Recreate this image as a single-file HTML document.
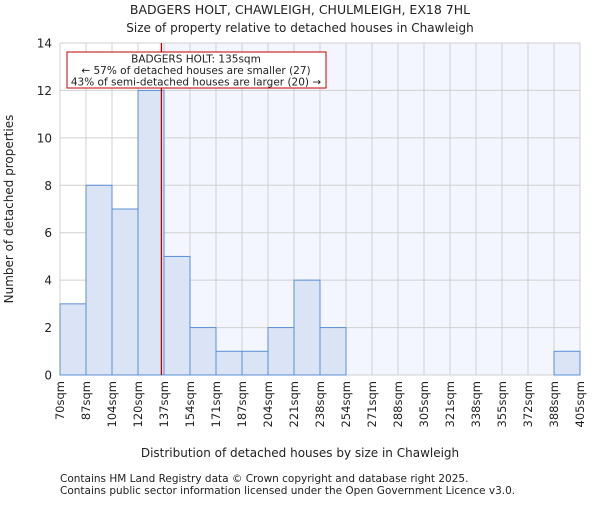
<!DOCTYPE html>
<html><head><meta charset="utf-8"><style>
body{margin:0;background:#fff;}
svg text{font-family:"DejaVu Sans","Liberation Sans",sans-serif;fill:#222;}
</style></head><body>
<svg id="chart" width="600" height="500">
<text x="300" y="14" text-anchor="middle" font-size="12.5">BADGERS HOLT, CHAWLEIGH, CHULMLEIGH, EX18 7HL</text>
<text x="300" y="32" text-anchor="middle" font-size="12">Size of property relative to detached houses in Chawleigh</text>
<g id="plot"></g>
<text x="300" y="457" text-anchor="middle" font-size="12">Distribution of detached houses by size in Chawleigh</text>
<text transform="translate(13,209) rotate(-90)" text-anchor="middle" font-size="12">Number of detached properties</text>
<text x="60" y="482" font-size="10.5">Contains HM Land Registry data © Crown copyright and database right 2025.</text>
<text x="60" y="494" font-size="10.5">Contains public sector information licensed under the Open Government Licence v3.0.</text>
</svg>
<script>
const binLabels=["70sqm","87sqm","104sqm","120sqm","137sqm","154sqm","171sqm","187sqm","204sqm","221sqm","238sqm","254sqm","271sqm","288sqm","305sqm","321sqm","338sqm","355sqm","372sqm","388sqm","405sqm"];
const counts=[3,8,7,12,5,2,1,1,2,4,2,0,0,0,0,0,0,0,0,1];
const yTicks=[0,2,4,6,8,10,12,14];
const markerBinPos=3.9;
const NS="http://www.w3.org/2000/svg";
const L=60,R=580,T=43,B=375,yMax=14;
const bw=(R-L)/counts.length;
const xs=i=>L+i*bw;
const ys=v=>B-(v/yMax)*(B-T);
const g=document.getElementById('plot');
function mk(t,a){const e=document.createElementNS(NS,t);for(const k in a)e.setAttribute(k,a[k]);g.appendChild(e);return e;}
const mx=xs(markerBinPos);
let e=mk('rect',{x:mx,y:T,width:R-mx,height:B-T,fill:'#f3f6fe'});


yTicks.forEach(v=>{
 let l=mk('line',{x1:L,x2:R,y1:ys(v),y2:ys(v),stroke:'#d0d0d0','stroke-width':1});
 
 
 let t=mk('text',{x:L-8,y:ys(v)+4.5,'text-anchor':'end','font-size':12});
 t.textContent=v;
 
 
});
binLabels.forEach((s,i)=>{
 let l=mk('line',{x1:xs(i),x2:xs(i),y1:T,y2:B,stroke:'#d0d0d0','stroke-width':1});
 
 
 let t=mk('text',{transform:`translate(${xs(i)+4},${B+6}) rotate(-90)`,'text-anchor':'end','font-size':11.5});
 t.textContent=s;
 
 
});
counts.forEach((c,i)=>{
 if(c<=0)return;
 let r=mk('rect',{x:xs(i),y:ys(c),width:bw,height:B-ys(c),fill:'#dae4f4',stroke:'#5b8fd6','stroke-width':1});
 
 
});
e=mk('line',{x1:mx,x2:mx,y1:T,y2:B,stroke:'#c00000','stroke-width':1.3});


e=mk('rect',{x:67,y:52,width:259,height:36,fill:'#fff',stroke:'#c00000','stroke-width':1});


["BADGERS HOLT: 135sqm","← 57% of detached houses are smaller (27)","43% of semi-detached houses are larger (20) →"].forEach((s,i)=>{
 let t=mk('text',{x:196,y:62.5+i*11.5,'text-anchor':'middle','font-size':10.5});
 t.textContent=s;
 
 
});
</script>
</body></html>
